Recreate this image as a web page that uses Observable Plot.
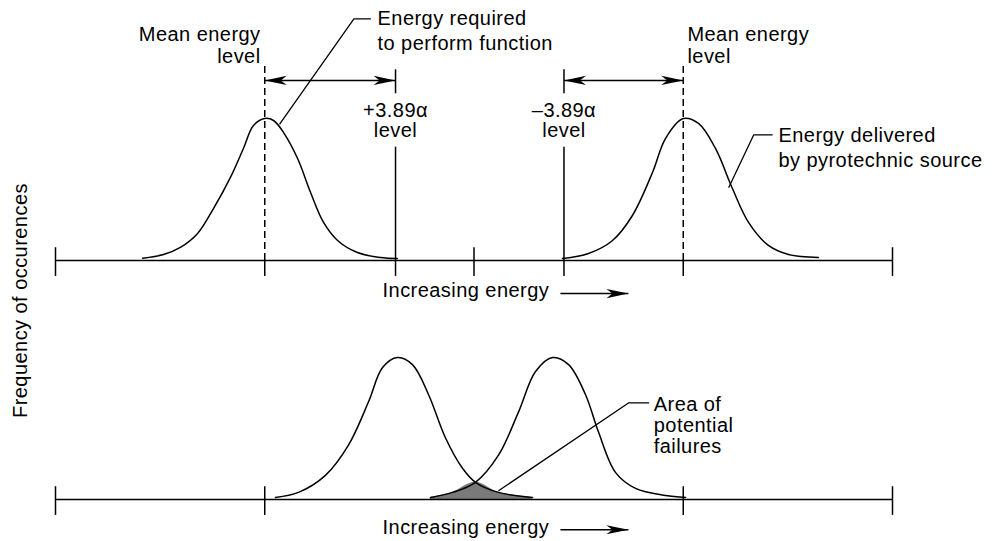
<!DOCTYPE html>
<html>
<head>
<meta charset="utf-8">
<script src="https://cdn.jsdelivr.net/npm/d3@7"></script>
<script src="https://cdn.jsdelivr.net/npm/@observablehq/plot@0.6"></script>
<style>
  html, body { margin: 0; padding: 0; background: #fff; }
  #chart svg text { letter-spacing: 0.45px; }
</style>
</head>
<body>
<div id="chart"></div>
<script>
// ---------------- DATA (energy units along x, relative frequency 0–100 along y) ----------------
const energyTicks = [0, 10, 20, 30, 40];
const bottomTicks = [0, 10, 30, 40];
const meanLevels = [10, 30];
const sigmaLevels = [16.25, 24.3];
const sigmaLabels = ["+3.89\u03b1\nlevel", "\u20133.89\u03b1\nlevel"];

// Top panel: energy required to perform function (left) and energy delivered (right)
const topRequiredX = [4.16, 5.16, 5.97, 6.79, 7.55, 8.36, 8.98, 9.46, 10.0, 10.42, 10.90, 11.57, 12.19, 12.81, 13.48, 14.43, 15.53, 16.34];
const topRequiredF = [1.6, 4.2, 9.2, 19.0, 36.6, 58.5, 78.9, 95.1, 100, 98.6, 90.1, 71.8, 47.9, 26.8, 14.1, 5.6, 2.1, 1.4];
const topDeliveredX = [24.23, 25.47, 26.62, 27.57, 28.53, 29.15, 30.0, 30.73, 31.54, 32.35, 33.12, 34.07, 35.03, 36.46];
const topDeliveredF = [1.4, 4.9, 14.1, 31.7, 62.0, 85.9, 100, 96.5, 78.9, 50.7, 26.8, 10.6, 4.2, 2.1];

// Bottom panel: overlapping distributions
const bottomRequiredX = [10.51, 11.61, 12.90, 14.00, 14.96, 15.63, 16.34, 17.06, 17.83, 18.64, 19.45, 20.07, 21.17, 22.80];
const bottomRequiredF = [1.4, 5.0, 17.0, 38.3, 68.8, 92.9, 100, 95.0, 73.8, 43.3, 22.0, 12.1, 5.0, 1.4];
const bottomDeliveredX = [17.92, 18.97, 20.07, 21.17, 22.13, 22.94, 23.75, 24.52, 25.33, 25.95, 26.76, 27.72, 29.15, 30.11];
const bottomDeliveredF = [1.4, 5.0, 12.1, 31.2, 61.7, 90.1, 100, 95.0, 73.8, 47.5, 19.1, 7.8, 2.8, 1.4];
const crossingX = 20.07;

// ---------------- LAYOUT ----------------
const panelBase = {top: 0, bottom: -168.3};
const tickUp = 9, tickDown = -11.2;
const FONT = 20;

const rows = (xs, fs, panel, curve) => xs.map((x, i) => ({x, f: fs[i], panel, curve}));
const curves = [
  ...rows(topRequiredX, topRequiredF, "top", "required"),
  ...rows(topDeliveredX, topDeliveredF, "top", "delivered"),
  ...rows(bottomRequiredX, bottomRequiredF, "bottom", "required"),
  ...rows(bottomDeliveredX, bottomDeliveredF, "bottom", "delivered")
];
const failRows = [
  ...rows(bottomDeliveredX, bottomDeliveredF, "bottom", "fail").filter(d => d.x <= crossingX),
  ...rows(bottomRequiredX, bottomRequiredF, "bottom", "fail").filter(d => d.x > crossingX)
];
const yv = d => d.f + panelBase[d.panel];

// filled dart arrowheads (custom symbols)
const headRight = {draw(c) { c.moveTo(0, 0); c.lineTo(-22, -4.6); c.lineTo(-16, 0); c.lineTo(-22, 4.6); c.closePath(); }};
const headLeft  = {draw(c) { c.moveTo(0, 0); c.lineTo(22, -4.6); c.lineTo(16, 0); c.lineTo(22, 4.6); c.closePath(); }};

const spans = meanLevels.map((m, i) => ({a: Math.min(m, sigmaLevels[i]), b: Math.max(m, sigmaLevels[i])}));
const spanY = 126.8;
const incArrows = [{y: -23.3, x1: 24.13, x2: 27.38}, {y: -189.6, x1: 24.13, x2: 27.38}];

const leaders = [
  {id: "req", pts: [[10.72, 96.3], [14.26, 170.2], [15.05, 170.2]]},
  {id: "del", pts: [[32.18, 51.6], [33.37, 88.5], [34.25, 88.5]]},
  {id: "fail", pts: [[21.19, -162.0], [27.40, -100.2], [28.35, -100.2]]}
].flatMap(l => l.pts.map(([x, y]) => ({id: l.id, x, y})));

const SW = 1.5;

const chart = Plot.plot({
  width: 992,
  height: 541,
  marginLeft: 55,
  marginRight: 100,
  marginTop: 0,
  marginBottom: 0,
  style: "font-family: 'Liberation Sans', Arial, Helvetica, sans-serif; background: white; color: black;",
  x: {domain: [0, 40], axis: null},
  y: {domain: [0, 100], range: [260, 118], axis: null},
  marks: [
    // shaded area of potential failures
    Plot.areaY(failRows, {x: "x", y1: () => panelBase.bottom, y2: yv, curve: "catmull-rom", fill: "#7a7a7a"}),
    // baselines
    Plot.ruleY(["top", "bottom"], {y: p => panelBase[p], x1: 0, x2: 40, stroke: "black", strokeWidth: 1.7}),
    // top panel ticks
    Plot.ruleX(energyTicks.filter(t => !meanLevels.includes(t)), {x: d => d, y1: tickDown, y2: tickUp, stroke: "black", strokeWidth: SW}),
    Plot.ruleX(meanLevels, {x: d => d, y1: tickDown, y2: 0, stroke: "black", strokeWidth: SW}),
    Plot.ruleX(meanLevels, {x: d => d, y1: 0, y2: 138.5, stroke: "black", strokeWidth: SW, strokeDasharray: "7,4"}),
    // sigma level lines
    Plot.ruleX(sigmaLevels, {x: d => d, y1: tickDown, y2: 79.8, stroke: "black", strokeWidth: SW}),
    Plot.ruleX(sigmaLevels, {x: d => d, y1: 117.4, y2: 134.3, stroke: "black", strokeWidth: SW}),
    // bottom panel ticks
    Plot.ruleX(bottomTicks, {x: d => d, y1: panelBase.bottom + tickDown, y2: panelBase.bottom + tickUp, stroke: "black", strokeWidth: SW}),
    // distributions
    Plot.line(curves, {x: "x", y: yv, z: d => d.panel + d.curve, curve: "catmull-rom", stroke: "black", strokeWidth: SW}),
    // leader lines
    Plot.line(leaders, {x: "x", y: "y", z: "id", stroke: "black", strokeWidth: 1.3}),
    // double arrows mean <-> sigma
    Plot.link(spans, {x1: "a", x2: "b", y1: spanY, y2: spanY, stroke: "black", strokeWidth: SW}),
    Plot.dot(spans, {x: "a", y: spanY, symbol: headLeft, fill: "black", stroke: "none"}),
    Plot.dot(spans, {x: "b", y: spanY, symbol: headRight, fill: "black", stroke: "none"}),
    // "Increasing energy" arrows
    Plot.link(incArrows, {x1: "x1", x2: "x2", y1: "y", y2: "y", stroke: "black", strokeWidth: SW}),
    Plot.dot(incArrows, {x: "x2", y: "y", symbol: headRight, fill: "black", stroke: "none"}),
    // texts
    Plot.text(["Mean energy\nlevel"], {text: d => d, x: 9.80, y: 138.9, textAnchor: "end", lineAnchor: "bottom", lineHeight: 1.1, fontSize: FONT}),
    Plot.text(["Mean energy\nlevel"], {text: d => d, x: 30.20, y: 138.9, textAnchor: "start", lineAnchor: "bottom", lineHeight: 1.1, fontSize: FONT}),
    Plot.text(["Energy required\nto perform function"], {text: d => d, x: 15.39, y: 147.9, textAnchor: "start", lineAnchor: "bottom", lineHeight: 1.25, fontSize: FONT}),
    Plot.text(sigmaLabels, {text: d => d, x: (d, i) => sigmaLevels[i], y: 86.8, textAnchor: "middle", lineAnchor: "bottom", lineHeight: 1.0, fontSize: FONT}),
    Plot.text(["Energy delivered\nby pyrotechnic source"], {text: d => d, x: 34.55, y: 65.7, textAnchor: "start", lineAnchor: "bottom", lineHeight: 1.25, fontSize: FONT}),
    Plot.text(["Area of\npotential\nfailures"], {text: d => d, x: 28.59, y: -135.7, textAnchor: "start", lineAnchor: "bottom", lineHeight: 1.065, fontSize: FONT}),
    Plot.text(["Increasing energy", "Increasing energy"], {text: d => d, x: 15.63, y: (d, i) => i === 0 ? -25.8 : -192.5, textAnchor: "start", lineAnchor: "bottom", fontSize: FONT}),
    Plot.text(["Frequency of occurences"], {text: d => d, x: -1.36, y: -28.2, rotate: -90, textAnchor: "middle", lineAnchor: "bottom", fontSize: 20})
  ]
});
document.getElementById("chart").appendChild(chart);
</script>
</body>
</html>
